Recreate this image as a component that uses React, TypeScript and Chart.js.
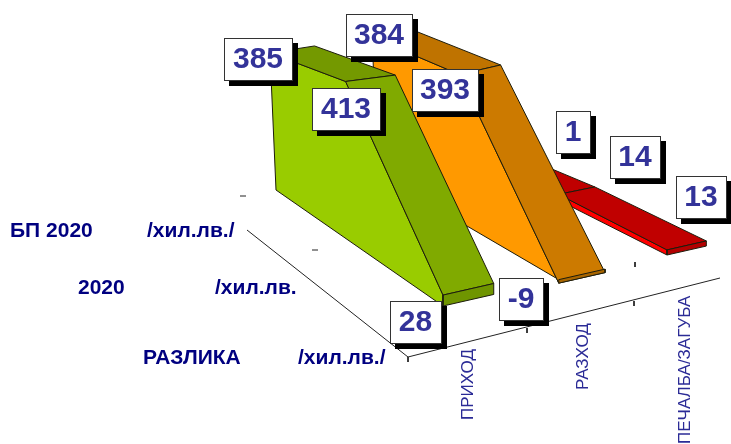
import React, { useEffect, useRef } from "react";
import { Chart, registerables } from "chart.js";

Chart.register(...registerables);

const WIDTH = 731;
const HEIGHT = 444;

// ---- data ----
const categories = ["ПРИХОД", "РАЗХОД", "ПЕЧАЛБА/ЗАГУБА"];
const rowNames = ["БП 2020", "2020", "РАЗЛИКА"];
const rowUnits = ["/хил.лв./", "/хил.лв.", "/хил.лв./"];
const budget2020 = [385, 384, 1];
const actual2020 = [413, 393, 14];
const difference = [28, -9, 13];

// ---- style & layout ----
const rows = [budget2020, actual2020, difference];
const sideColors = ["#99CC00", "#FF9900", "#FF0000"];
const topBackColors = ["#749900", "#BF7300", "#BF0000"];
const topFrontColors = ["#80AA00", "#CC7A00", "#C00000"];
const frontColors = ["#6F9500", "#A86500", "#B30000"];
const edge = "#1c1c0c";

const floorCorners = [
  [277, 190], // back row, first category
  [466, 155], // back row, third category
  [667, 255], // front row, third category
  [443, 306], // front row, first category
];
const ribbonWidths = [0.43, 0.42, 0.38];
const unitHeight = [0.356, 0.375, 0.39];
const unitLean = [-0.0156, -0.007, 0];
// small perspective calibration of the floor, per row at category 0, 1, 2
const floorNudge = [
  [[-1, 0], [4, 2], [3, 0]],
  [[-2, -5], [6, 2], [3, 0]],
  [[0, 0], [0, 0], [0, 0]],
];

const axisDepth = [[247, 230], [408, 357]];
const axisCat = [[408, 357], [720, 278]];
const tickMarks = [
  [[408, 357], [408, 362]],
  [[527, 328], [527, 333]],
  [[634, 301], [634, 306]],
  [[635, 262], [635, 267]],
  [[240, 196], [246, 196]],
  [[312, 250], [318, 250]],
];

const rowLabelLayout = [
  { name: 10, unit: 147, y: 231 },
  { name: 78, unit: 215, y: 288 },
  { name: 143, unit: 298, y: 358 },
];
const catLabelLayout = [
  { x: 468, y: 420 },
  { x: 583, y: 390 },
  { x: 685, y: 444 },
];
// [left, top, width] of each value box, per row and category
const boxLayout = [
  [[224, 38, 68], [346, 14, 66], [556, 111, 34]],
  [[312, 88, 68], [412, 69, 66], [610, 136, 50]],
  [[390, 301, 51], [499, 278, 44], [676, 176, 50]],
];

// ---- projection (category position, row, value) -> page ----
function makeFloor(q: number[][]) {
  const [[x0, y0], [x1, y1], [x2, y2], [x3, y3]] = q;
  const dx1 = x1 - x2, dx2 = x3 - x2, sx = x0 - x1 + x2 - x3;
  const dy1 = y1 - y2, dy2 = y3 - y2, sy = y0 - y1 + y2 - y3;
  const den = dx1 * dy2 - dx2 * dy1;
  const g = (sx * dy2 - dx2 * sy) / den;
  const h = (dx1 * sy - sx * dy1) / den;
  const a = x1 - x0 + g * x1, b = x3 - x0 + h * x3;
  const d = y1 - y0 + g * y1, e = y3 - y0 + h * y3;
  return (s: number, t: number) => {
    const w = g * s + h * t + 1;
    return { x: (a * s + b * t + x0) / w, y: (d * s + e * t + y0) / w };
  };
}
const floor = makeFloor(floorCorners);
function nudgeAt(u: number, r: number) {
  const i = Math.min(Math.floor(u), 1);
  const f = Math.min(u - i, 1);
  const n = floorNudge[r];
  return [n[i][0] + (n[i + 1][0] - n[i][0]) * f, n[i][1] + (n[i + 1][1] - n[i][1]) * f];
}
function project(u: number, r: number, v: number) {
  const p = floor(u / 2, r / 2);
  const [nx, ny] = nudgeAt(u, r);
  return { x: p.x + nx + unitLean[r] * v, y: p.y + ny - unitHeight[r] * v };
}

function buildDatasets() {
  const faces: any[] = [];
  const poly = (pts: { x: number; y: number }[], fillColor: string) =>
    faces.push({
      data: [...pts, pts[0]],
      showLine: true,
      fill: "shape",
      backgroundColor: fillColor,
      borderColor: edge,
      borderWidth: 1,
      pointRadius: 0,
      tension: 0,
    });
  const stroke = (pts: number[][]) =>
    faces.push({
      data: pts.map(([x, y]) => ({ x, y })),
      showLine: true,
      fill: false,
      borderColor: "#222222",
      borderWidth: 1,
      pointRadius: 0,
      tension: 0,
    });

  stroke(axisDepth);
  stroke(axisCat);
  tickMarks.forEach(stroke);

  for (let c = categories.length - 1; c >= 0; c--) {
    const l = c, rr = c + ribbonWidths[c];
    const val = (u: number, r: number) => project(u, r, rows[r][c]);
    poly(
      [project(l, 0, 0), project(l, 2, 0), val(l, 2), val(l, 1), val(l, 0)],
      sideColors[c]
    );
    poly([val(l, 0), val(rr, 0), val(rr, 1), val(l, 1)], topBackColors[c]);
    poly([val(l, 1), val(rr, 1), val(rr, 2), val(l, 2)], topFrontColors[c]);
    poly([project(l, 2, 0), project(rr, 2, 0), val(rr, 2), val(l, 2)], frontColors[c]);
  }
  return faces.map((f, i) => ({ ...f, order: faces.length - i }));
}

const textPlugin = {
  id: "chartText",
  afterDatasetsDraw(chart: any) {
    const ctx = chart.ctx as CanvasRenderingContext2D;
    ctx.save();
    ctx.textBaseline = "middle";
    ctx.textAlign = "left";
    ctx.fillStyle = "#000080";
    ctx.font = 'bold 21px "Liberation Sans", Arial, sans-serif';
    rowNames.forEach((name, i) => {
      const p = rowLabelLayout[i];
      ctx.fillText(name, p.name, p.y);
      ctx.fillText(rowUnits[i], p.unit, p.y);
    });
    ctx.fillStyle = "#2B2B96";
    ctx.font = '17px "Liberation Sans", Arial, sans-serif';
    categories.forEach((name, i) => {
      const p = catLabelLayout[i];
      ctx.save();
      ctx.translate(p.x, p.y);
      ctx.rotate(-Math.PI / 2);
      ctx.fillText(name, 0, 0);
      ctx.restore();
    });
    ctx.textAlign = "center";
    ctx.font = 'bold 30px "Liberation Sans", Arial, sans-serif';
    rows.forEach((row, r) =>
      row.forEach((v, c) => {
        const [x, y, w] = boxLayout[r][c];
        const h = 42;
        ctx.fillStyle = "#000000";
        ctx.fillRect(x + 5, y + 5, w + 1, h + 1);
        ctx.fillStyle = "#FFFFFF";
        ctx.fillRect(x, y, w, h);
        ctx.strokeStyle = "#333333";
        ctx.lineWidth = 1;
        ctx.strokeRect(x + 0.5, y + 0.5, w, h);
        ctx.fillStyle = "#333399";
        ctx.fillText(String(v), x + w / 2, y + h / 2 + 1);
      })
    );
    ctx.restore();
  },
};

export default function App() {
  const ref = useRef<HTMLCanvasElement>(null);
  useEffect(() => {
    const chart = new Chart(ref.current as HTMLCanvasElement, {
      type: "scatter",
      data: { datasets: buildDatasets() },
      options: {
        responsive: false,
        animation: false,
        events: [],
        layout: { padding: 0 },
        plugins: { legend: { display: false }, tooltip: { enabled: false } },
        scales: {
          x: { type: "linear", display: false, min: 0, max: WIDTH },
          y: { type: "linear", display: false, min: 0, max: HEIGHT, reverse: true },
        },
      },
      plugins: [textPlugin],
    } as any);
    return () => chart.destroy();
  }, []);
  return (
    <canvas
      ref={ref}
      width={WIDTH}
      height={HEIGHT}
      style={{ position: "absolute", left: 0, top: 0, width: WIDTH, height: HEIGHT, background: "#fff" }}
    />
  );
}
